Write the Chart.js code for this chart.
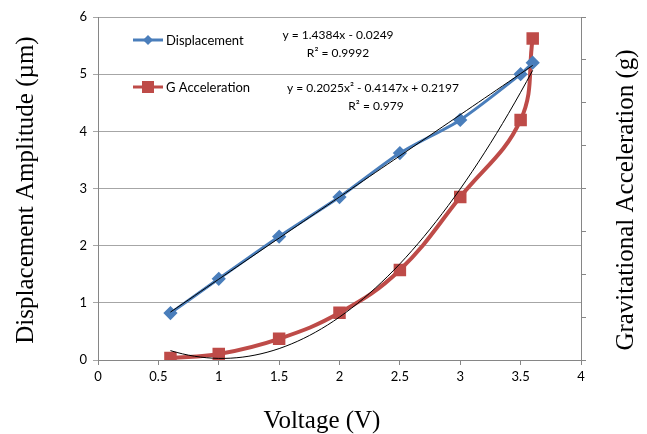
<!DOCTYPE html>
<html>
<head>
<meta charset="utf-8">
<script src="https://cdn.jsdelivr.net/npm/chart.js@4"></script>
<style>
  html, body { margin: 0; padding: 0; background: #fff; }
  #wrap { width: 647px; height: 434px; }
</style>
</head>
<body>
<div id="wrap"><canvas id="chart" width="647" height="434"></canvas></div>
<script>
// === DATA ===
const voltage = [0.6, 1, 1.5, 2, 2.5, 3, 3.5, 3.6];
const displacement = [0.82, 1.42, 2.16, 2.85, 3.62, 4.2, 5.0, 5.2];
const gAccel = [0.009, 0.028, 0.099, 0.22, 0.42, 0.76, 1.12, 1.5];
const linFit = [1.4384, -0.0249];          // y = a x + b
const quadFit = [0.2025, -0.4147, 0.2197]; // y = a x^2 + b x + c
const fitLabels = ["y = 1.4384x - 0.0249", "R² = 0.9992", "y = 0.2025x² - 0.4147x + 0.2197", "R² = 0.979"];
const seriesNames = ["Displacement", "G Acceleration"];
const axisTitles = ["Voltage (V)", "Displacement Amplitude (µm)", "Gravitational Acceleration (g)"];

const BLUE = "#4a7ebb", RED = "#be4b48";
const tickFont = { family: "Lato", size: 13 };

// trendline samples from the shown equations
const fitX = [];
for (let x = 0.6; x <= 3.6001; x += 0.05) fitX.push(+x.toFixed(2));
const linPts = fitX.map(x => ({ x, y: linFit[0] * x + linFit[1] }));
const quadPts = fitX.map(x => ({ x, y: quadFit[0] * x * x + quadFit[1] * x + quadFit[2] }));

// === LEGEND, EQUATIONS, AXIS TITLES ===
const annotate = {
  id: "annotate",
  afterDatasetsDraw(chart) {
    const ctx = chart.ctx;
    ctx.save();
    ctx.font = "13px Lato";
    ctx.fillStyle = "#000";
    ctx.textBaseline = "middle";
    // legend
    [[BLUE, 40, "diamond"], [RED, 87, "square"]].forEach(([c, y, m], i) => {
      ctx.strokeStyle = c; ctx.lineWidth = 3;
      ctx.beginPath(); ctx.moveTo(133, y); ctx.lineTo(163, y); ctx.stroke();
      ctx.fillStyle = c;
      ctx.beginPath();
      if (m === "diamond") { ctx.moveTo(148, y - 5); ctx.lineTo(153, y); ctx.lineTo(148, y + 5); ctx.lineTo(143, y); }
      else ctx.rect(142, y - 6, 12, 12);
      ctx.fill();
      ctx.fillStyle = "#000";
      ctx.textAlign = "left";
      ctx.fillText(seriesNames[i], 166, y + 1);
    });
    ctx.font = "12px Lato";
    ctx.textAlign = "center";
    ctx.fillText(fitLabels[0], 338, 35);
    ctx.fillText(fitLabels[1], 338, 53);
    ctx.fillText(fitLabels[2], 373, 88);
    ctx.fillText(fitLabels[3], 376, 106);
    // axis titles
    ctx.font = "25px 'Liberation Serif'";
    ctx.fillText(axisTitles[0], 322, 421);
    ctx.translate(26, 190); ctx.rotate(-Math.PI / 2);
    ctx.fillText(axisTitles[1], 0, 0);
    ctx.setTransform(1, 0, 0, 1, 0, 0);
    ctx.translate(626, 200); ctx.rotate(-Math.PI / 2);
    ctx.fillText(axisTitles[2], 0, 0);
    ctx.restore();
  }
};

new Chart(document.getElementById("chart"), {
  type: "scatter",
  data: {
    datasets: [
      { label: seriesNames[0], data: voltage.map((x, i) => ({ x, y: displacement[i] })), yAxisID: "y",
        showLine: true, borderColor: BLUE, backgroundColor: BLUE, borderWidth: 3,
        pointStyle: "rectRot", pointRadius: 5, pointHoverRadius: 5, tension: 0.25, order: 2 },
      { label: seriesNames[1], data: voltage.map((x, i) => ({ x, y: gAccel[i] })), yAxisID: "y1",
        showLine: true, borderColor: RED, backgroundColor: RED, borderWidth: 4,
        pointStyle: "rect", pointRadius: 6, pointHoverRadius: 6, tension: 0.4, order: 2 },
      { data: linPts, yAxisID: "y", showLine: true, borderColor: "#000", borderWidth: 1, pointRadius: 0, order: 1 },
      { data: quadPts, yAxisID: "y1", showLine: true, borderColor: "#000", borderWidth: 1, pointRadius: 0, order: 1 }
    ]
  },
  options: {
    responsive: false,
    animation: false,
    layout: { padding: { top: 17, right: 0, left: 0, bottom: 0 } },
    plugins: { legend: { display: false }, tooltip: { enabled: false } },
    scales: {
      x: {
        type: "linear", min: 0, max: 4,
        ticks: { stepSize: 0.5, font: tickFont, color: "#000", padding: 4, callback: v => String(+v.toFixed(1)) },
        grid: { drawOnChartArea: false, drawTicks: true, tickLength: 5, color: "#868686" },
        border: { color: "#868686" },
        afterFit(s) { s.height = 74; }
      },
      y: {
        position: "left", min: 0, max: 6,
        ticks: { stepSize: 1, font: tickFont, color: "#000", padding: 6 },
        grid: { color: "#a6a6a6", tickLength: 5 },
        border: { color: "#868686" },
        afterFit(s) { s.width = 98; }
      },
      y1: {
        position: "right", min: 0, max: 1.6,
        ticks: { stepSize: 0.2, callback: () => "", font: tickFont },
        grid: { drawOnChartArea: false, tickLength: 5, color: "#868686" },
        border: { color: "#868686" },
        afterFit(s) { s.width = 66; }
      }
    }
  },
  plugins: [annotate]
});
</script>
</body>
</html>
